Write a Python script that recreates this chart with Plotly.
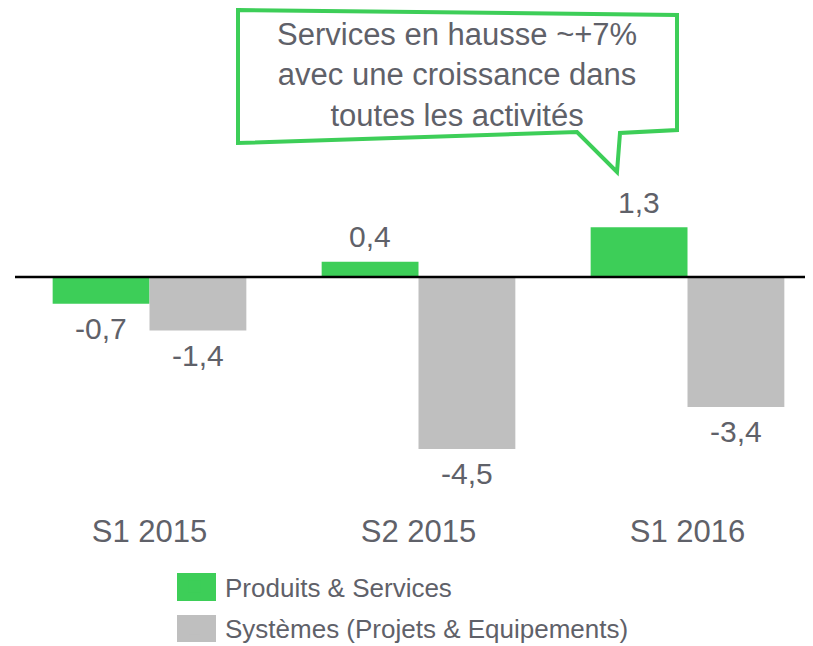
import plotly.graph_objects as go

# ---------------- data ----------------
categories = ["S1 2015", "S2 2015", "S1 2016"]
produits_services = [-0.7, 0.4, 1.3]
systemes = [-1.4, -4.5, -3.4]
series_names = ["Produits & Services", "Systèmes (Projets & Equipements)"]
callout_lines = ["Services en hausse ~+7%", "avec une croissance dans", "toutes les activités"]

# ---------------- style ----------------
GREEN = "#3dce58"
GREY = "#bfbfbf"
TEXT = "#5f6169"
FONT = "Liberation Sans, Arial, sans-serif"

OFF = 8  # page body margin: figure origin sits at screen (8, 8)
W, H = 813 - OFF, 646 - OFF
ML, MR, MT, MB = 15 - OFF, 0, 0, 638 - 500
PW = W - ML - MR
PH = H - MT - MB
PLOT_BOTTOM = MT + PH

ZERO_SCR = 277.0     # screen row of zero line
PX_PER_UNIT = 38.2   # vertical scale
CAT_PX = 269.0       # width of one category
CAT0_SCR = 149.5     # screen centre of first category
BARGAP = 0.28


def px(xs):
    """screen x -> paper x"""
    return (xs - OFF - ML) / PW


def py(ys):
    """screen y -> paper y"""
    return (PLOT_BOTTOM - (ys - OFF)) / PH


def fmt(v):
    return f"{v:.1f}".replace(".", ",")


zero_fig = ZERO_SCR - OFF
y_max = (zero_fig - MT) / PX_PER_UNIT
y_min = -(PLOT_BOTTOM - zero_fig) / PX_PER_UNIT
x_min = -0.5 - ((CAT0_SCR - OFF) - CAT_PX / 2 - ML) / CAT_PX
x_max = x_min + PW / CAT_PX

fig = go.Figure()
for name, vals, col, grp in [(series_names[0], produits_services, GREEN, "g1"),
                             (series_names[1], systemes, GREY, "g2")]:
    fig.add_trace(go.Bar(
        x=categories, y=vals, name=name, legendgroup=grp,
        marker=dict(color=col, line=dict(width=0)),
        hoverinfo="skip",
    ))

annotations = []
half = (1 - BARGAP) / 4
for i, cat in enumerate(categories):
    for vals, off in [(produits_services, -half), (systemes, half)]:
        v = vals[i]
        annotations.append(dict(
            x=i + off, y=v, xref="x", yref="y",
            text=fmt(v), showarrow=False,
            yshift=25 if v > 0 else -25,
            xanchor="center", yanchor="middle",
            font=dict(size=30, color=TEXT, family=FONT),
        ))

annotations.append(dict(
    x=px(457), y=py(75), xref="paper", yref="paper",
    text="<br>".join(callout_lines), showarrow=False,
    xanchor="center", yanchor="middle", align="center",
    font=dict(size=31, color=TEXT, family=FONT),
))

callout_pts = [(238, 10), (677, 15), (677, 130), (620, 133), (617, 172),
               (577, 132), (238, 143)]
path = "M " + " L ".join(f"{px(x):.5f},{py(y):.5f}" for x, y in callout_pts) + " Z"

shapes = [
    dict(type="line", xref="paper", yref="y", x0=0, x1=px(805), y0=0, y1=0,
         line=dict(color="black", width=2.5), layer="above"),
    dict(type="path", xref="paper", yref="paper", path=path,
         line=dict(color=GREEN, width=4), fillcolor="white", layer="above"),
    # large legend swatches
    dict(type="rect", xref="paper", yref="paper", x0=px(177), x1=px(216),
         y0=py(601), y1=py(573), fillcolor=GREEN, line=dict(width=0), layer="above"),
    dict(type="rect", xref="paper", yref="paper", x0=px(177), x1=px(216),
         y0=py(642), y1=py(615), fillcolor=GREY, line=dict(width=0), layer="above"),
]

fig.update_layout(
    width=W, height=H,
    margin=dict(l=ML, r=MR, t=MT, b=MB, pad=0, autoexpand=False),
    paper_bgcolor="white", plot_bgcolor="white",
    barmode="group", bargap=BARGAP, bargroupgap=0,
    font=dict(family=FONT, color=TEXT),
    showlegend=True,
    legend=dict(
        x=px(164), xanchor="left", y=py(563), yanchor="top",
        orientation="v", traceorder="grouped", tracegroupgap=5,
        itemwidth=51, bgcolor="rgba(0,0,0,0)",
        font=dict(size=26, color=TEXT, family=FONT),
        itemclick=False, itemdoubleclick=False,
    ),
    xaxis=dict(
        type="category", range=[x_min, x_max],
        showgrid=False, zeroline=False, showline=False, ticks="",
        tickfont=dict(size=31, color=TEXT, family=FONT),
        ticklabelstandoff=2,
    ),
    yaxis=dict(range=[y_min, y_max], visible=False, showgrid=False, zeroline=False),
    annotations=annotations,
    shapes=shapes,
)

fig.write_html("out.html")
